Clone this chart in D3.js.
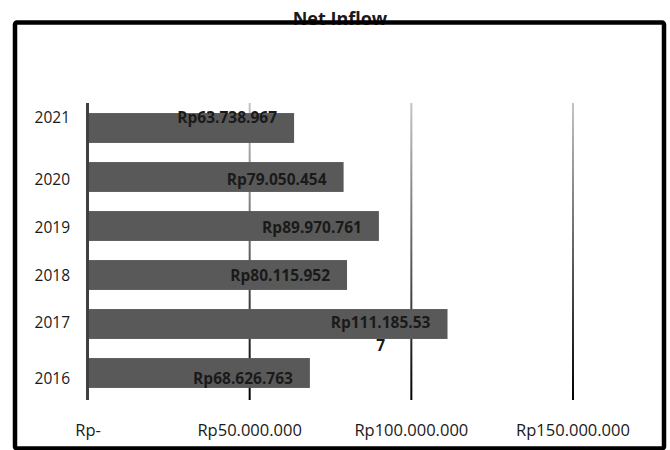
<!DOCTYPE html>
<html>
<head>
<meta charset="utf-8">
<script src="https://cdn.jsdelivr.net/npm/d3@7"></script>
<style>
  body { margin: 0; background: #fff; }
  text { font-family: "Open Sans", sans-serif; }
</style>
</head>
<body>
<div id="chart"></div>
<script>
// data
const years = ['2021', '2020', '2019', '2018', '2017', '2016'];
const netInflow = [63738967, 79050454, 89970761, 80115952, 111185537, 68626763];
const xTicks = [0, 50000000, 100000000, 150000000];
const tickLabels = ['Rp-', 'Rp50.000.000', 'Rp100.000.000', 'Rp150.000.000'];

// small vertical nudges of labels, as placed in the original sheet
const labelNudge = {'2021': -11, '2020': 2, '2019': 1, '2018': 0, '2017': -2, '2016': 5};

const width = 670, height = 450;

const svg = d3.select('#chart').append('svg')
    .attr('width', width)
    .attr('height', height);

const x = d3.scaleLinear()
    .domain([0, 150000000])
    .range([88, 573]);

const y = d3.scaleBand()
    .domain(years)
    .range([103.5, 397.5])
    .paddingInner(0.39)
    .paddingOuter(0.195);

const fmt = d => 'Rp' + d3.format(',')(d).replace(/,/g, '.');

// title (sits under the frame line)
svg.append('text')
    .attr('x', 340)
    .attr('y', 25)
    .attr('text-anchor', 'middle')
    .attr('font-size', 18)
    .attr('font-weight', 'bold')
    .attr('fill', '#1a1a1a')
    .text('Net Inflow');

// gradient for gridlines: light at top, black at bottom
const grad = svg.append('defs').append('linearGradient')
    .attr('id', 'gridGrad')
    .attr('gradientUnits', 'userSpaceOnUse')
    .attr('x1', 0).attr('x2', 0)
    .attr('y1', 103).attr('y2', 400);
grad.append('stop').attr('offset', '0%').attr('stop-color', '#c4c4c4');
grad.append('stop').attr('offset', '100%').attr('stop-color', '#000');

svg.append('g').selectAll('rect')
    .data(xTicks.slice(1))
  .join('rect')
    .attr('x', d => x(d) - 1)
    .attr('y', 103)
    .attr('width', 2)
    .attr('height', 297)
    .attr('fill', 'url(#gridGrad)');

// bars
svg.append('g').selectAll('rect')
    .data(netInflow)
  .join('rect')
    .attr('x', x(0) + 1)
    .attr('y', (d, i) => y(years[i]))
    .attr('width', d => x(d) - x(0) - 1)
    .attr('height', y.bandwidth())
    .attr('fill', '#595959');

// vertical category axis line
svg.append('line')
    .attr('x1', x(0) - 0.5).attr('x2', x(0) - 0.5)
    .attr('y1', 103).attr('y2', 400)
    .attr('stroke', '#404040')
    .attr('stroke-width', 3);

// value labels, wrapped like the original when too long
const labels = svg.append('g')
    .attr('font-size', 15.5)
    .attr('font-weight', 'bold')
    .attr('fill', '#1a1a1a');

netInflow.forEach((v, i) => {
  const s = fmt(v);
  const cy = y(years[i]) + y.bandwidth() / 2 + labelNudge[years[i]];
  const lines = s.length > 12 ? [s.slice(0, 12), s.slice(12)] : [s];
  const t = labels.append('text')
      .attr('x', x(v) - 17)
      .attr('y', cy + 5.5)
      .attr('text-anchor', 'end')
      .text(lines[0]);
  if (lines.length > 1) {
    const w = t.node().getComputedTextLength();
    labels.append('text')
        .attr('x', x(v) - 17 - w / 2)
        .attr('y', cy + 28.5)
        .attr('text-anchor', 'middle')
        .text(lines[1]);
  }
});

// year labels
svg.append('g').selectAll('text')
    .data(years)
  .join('text')
    .attr('x', 70)
    .attr('y', d => y(d) + y.bandwidth() / 2 + labelNudge[d] + 5.5)
    .attr('text-anchor', 'end')
    .attr('font-size', 15.5)
    .attr('fill', '#1a1a1a')
    .text(d => d);

// x tick labels
svg.append('g').selectAll('text')
    .data(xTicks)
  .join('text')
    .attr('x', d => x(d))
    .attr('y', 436)
    .attr('text-anchor', 'middle')
    .attr('font-size', 16.5)
    .attr('fill', '#1a1a1a')
    .text((d, i) => tickLabels[i]);

// outer frame
svg.append('rect')
    .attr('x', 15)
    .attr('y', 22.5)
    .attr('width', 649)
    .attr('height', 426)
    .attr('rx', 2)
    .attr('fill', 'none')
    .attr('stroke', '#000')
    .attr('stroke-width', 4.5);
</script>
</body>
</html>
